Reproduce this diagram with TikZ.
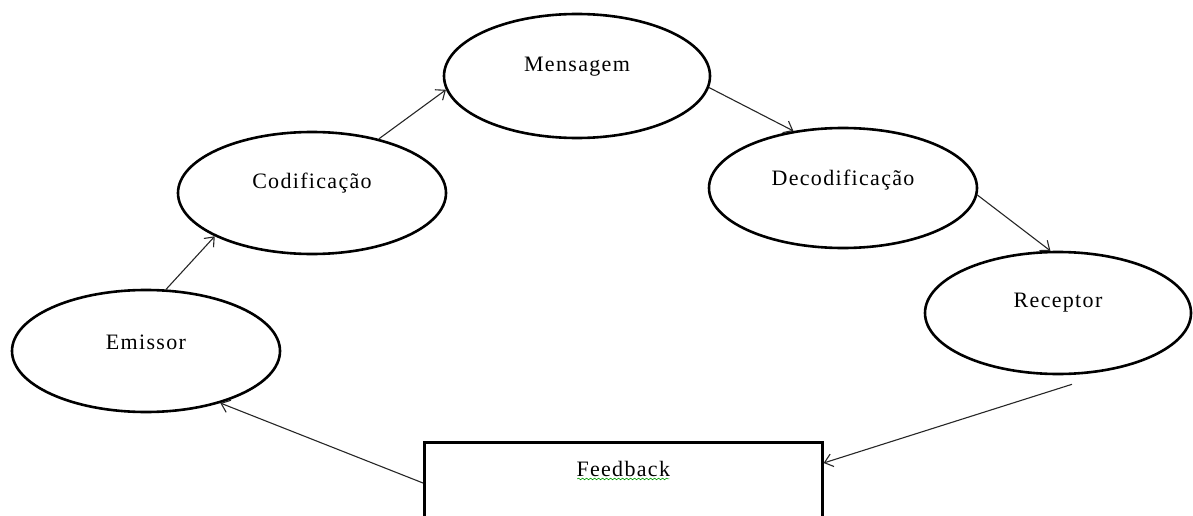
\documentclass[tikz,border=0pt]{standalone}
\usepackage{fontspec}
\setmainfont{Liberation Serif}[LetterSpace=6]
\usetikzlibrary{shapes.geometric,arrows.meta,calc,decorations.pathmorphing}
\tikzset{
  oval/.style={ellipse, draw=black, line width=2.6pt, minimum width=268pt, minimum height=122pt, inner sep=0pt},
  fbbox/.style={rectangle, draw=black, line width=2.6pt, anchor=north west, minimum width=398pt, minimum height=110pt, inner sep=0pt},
  lbl/.style={font=\fontsize{22}{26}\selectfont, text=black, inner sep=0pt},
  conn/.style={draw=black!85, line width=1.1pt, -{Straight Barb[length=8pt,width=13pt,line width=1.1pt]}},
  squiggle/.style={draw=green!60!black, line width=0.6pt, decorate, decoration={snake, amplitude=0.8pt, segment length=4pt}}
}
\begin{document}
\begin{tikzpicture}[x=1pt, y=-1pt]
\useasboundingbox (0,0) rectangle (1193,516);
\clip (0,0) rectangle (1193,516);
\node[oval, label={[lbl, yshift=9pt]center:Emissor}] (emi) at (146,351) {};
\node[oval, minimum height=122pt, label={[lbl, yshift=10pt]center:Codificação}] (cod) at (312,193) {};
\node[oval, minimum width=266pt, minimum height=124pt, label={[lbl, yshift=9pt]center:Mensagem}] (men) at (577,76) {};
\node[oval, minimum height=120pt, label={[lbl, yshift=8pt]center:Decodificação}] (dec) at (843,188) {};
\node[oval, minimum width=266pt, label={[lbl, yshift=10pt]center:Receptor}] (rec) at (1058,313) {};
\node[fbbox] (fb) at (423,441) {};
\node[lbl] (fbt) at ($(fb.north)+(0,28)$) {Feedback};
\draw[squiggle] ($(fbt.south west)+(1,2)$) -- ($(fbt.south east)+(-1,2)$);
\draw[conn] (emi.72.7) -- (cod.204.4);
\draw[conn] (cod.39.9) -- (men.186.9);
\draw[conn] (men.-5.9) -- (dec.131);
\draw[conn] (dec.-3.8) -- (rec.97);
\draw[conn] ($(rec.south)+(14,9)$) -- ($(fb.north east)+(0,22)$);
\draw[conn] ($(fb.north west)+(0,42)$) -- (emi.-35);
\end{tikzpicture}
\end{document}
